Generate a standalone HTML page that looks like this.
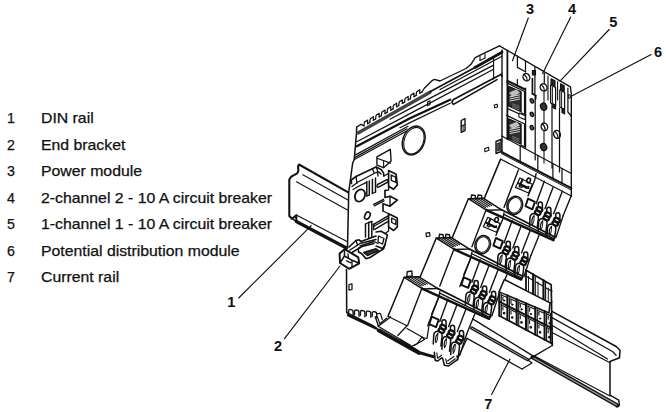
<!DOCTYPE html>
<html><head><meta charset="utf-8">
<style>
html,body{margin:0;padding:0;background:#fff;}
body{width:666px;height:412px;overflow:hidden;position:relative;font-family:"Liberation Sans",sans-serif;color:#111;}
.row{position:absolute;left:0;-webkit-text-stroke:0.25px #111;font-size:14.2px;line-height:16px;white-space:nowrap;}
.row .n{position:absolute;left:7px;}
.row .t{position:absolute;left:41.2px;transform:scaleX(1.114);transform-origin:0 0;}
svg{position:absolute;left:0;top:0;}
svg text{font-family:"Liberation Sans",sans-serif;font-weight:bold;font-size:14.6px;fill:#111;}
</style></head><body>
<div class="row" style="top:110px"><span class="n">1</span><span class="t">DIN rail</span></div>
<div class="row" style="top:136.5px"><span class="n">2</span><span class="t">End bracket</span></div>
<div class="row" style="top:163px"><span class="n">3</span><span class="t">Power module</span></div>
<div class="row" style="top:189.5px"><span class="n">4</span><span class="t">2-channel 2 - 10 A circuit breaker</span></div>
<div class="row" style="top:216px"><span class="n">5</span><span class="t">1-channel 1 - 10 A circuit breaker</span></div>
<div class="row" style="top:242.5px"><span class="n">6</span><span class="t">Potential distribution module</span></div>
<div class="row" style="top:269px"><span class="n">7</span><span class="t">Current rail</span></div>
<svg width="666" height="412" viewBox="0 0 666 412" fill="none" stroke="#111" stroke-width="1" stroke-linecap="round" stroke-linejoin="round">
<!--LABELS-->
<g stroke="none">
<text x="526" y="13.8">3</text>
<text x="568" y="13.8">4</text>
<text x="609.3" y="26.8">5</text>
<text x="654" y="57">6</text>
<text x="227.2" y="307">1</text>
<text x="274" y="351.3">2</text>
<text x="484.3" y="409.4">7</text>
</g>
<!--LEADERS-->
<g stroke-width="1.15">
<path d="M528.3 18 L512.5 60.7"/>
<path d="M570.7 17 L542.5 73.7"/>
<path d="M609.2 29.5 L560 81.2"/>
<path d="M651.2 54.5 L571.2 96.2"/>
<path d="M238.7 298 L311.2 225.7"/>
<path d="M284.5 338.7 L340 266"/>
<path d="M491.6 394.4 L510 359"/>
</g>
<!--DRAWING-->
<path d="M347.8 192.2 L299.0 164.5 L298.0 166.4 L298.4 170.9 L297.2 173.3 L291.2 176.6 L289.3 179.5 L289.3 216.0 L292.0 218.7 L296.3 215.2 L296.3 221.0" stroke-width="2.07"/>
<path d="M302.8 174.8 L347.5 199.8" stroke-width="1.10"/>
<path d="M296.4 181.8 L347.5 209.9" stroke-width="1.10"/>
<path d="M296.8 215.3 L347.0 241.5" stroke-width="1.10"/>
<path d="M296.3 221.5 L346.5 248.0" stroke-width="3.17"/>
<path d="M292.0 218.7 L296.3 221.3" stroke-width="1.38"/>
<path d="M356.7 127.0 L356.5 133.0 L354.2 159.5 L352.6 163.5 L348.7 192.5 L347.5 247.5" stroke-width="1.52"/>
<path d="M346.5 269.5 L346.7 312.6" stroke-width="1.52"/>
<ellipse cx="413.7" cy="140.5" rx="10.8" ry="15" transform="rotate(22 413.7 140.5)" stroke-width="1.38"/>
<path d="M351.5 183.5 L351.2 180.0 L356.0 176.5 L372.4 168.7 L376.1 166.9 L381.1 169.4 L383.6 173.1 L383.8 176.0" stroke-width="1.65"/>
<path d="M352.0 186.5 L358.0 182.0 L376.0 172.5 L379.0 172.0 L381.0 174.0" stroke-width="1.32"/>
<path d="M353.0 189.5 L360.0 185.5 L366.5 182.3" stroke-width="1.32"/>
<path d="M356.0 176.5 L357.0 183.0" stroke-width="1.32"/>
<path d="M376.1 166.9 L377.5 170.5 L378.0 176.0" stroke-width="1.32"/>
<path d="M372.4 168.7 L374.0 172.5" stroke-width="1.32"/>
<path d="M366.8 181.5 L366.8 196.0" stroke-width="1.48"/>
<path d="M369.3 181.0 L369.3 195.0" stroke-width="1.48"/>
<path d="M372.4 179.5 L372.4 193.5" stroke-width="1.48"/>
<path d="M375.5 178.0 L375.5 192.0" stroke-width="1.48"/>
<path d="M366.8 196.0 L369.3 195.0" stroke-width="1.32"/>
<path d="M372.4 193.5 L375.5 192.0" stroke-width="1.32"/>
<path d="M377.5 184.5 L386.5 179.8 Q388.5 179.5 388 182 L378.5 187.2 Q376.3 187.5 377.5 184.5 Z" stroke-width="1.48"/>
<path d="M388.6 170.6 L396.1 174.3 L397.3 184.9 L393.6 189.3 L388.6 186.2 Z" stroke-width="1.65"/>
<path d="M391.1 175.0 L395.6 177.2 L395.9 182.5 L391.4 180.3 Z" stroke-width="1.32"/>
<path d="M383.8 176.0 L388.6 173.5" stroke-width="1.32"/>
<ellipse cx="360" cy="195.5" rx="4.8" ry="6.4" transform="rotate(25 360 195.5)" stroke-width="1.81"/>
<path d="M385.0 190.5 L385.0 197.5 L390.0 196.2 L397.3 200.0 L390.0 206.2 L383.0 203.7 L383.0 211.0" stroke-width="1.65"/>
<path d="M390.0 196.2 L390.0 206.2" stroke-width="1.32"/>
<path d="M388.6 186.2 L388.6 190.0 L385.0 190.5" stroke-width="1.32"/>
<path d="M373.6 204.3 L383.6 199.3" stroke-width="1.32"/>
<path d="M374.2 205.8 L384.0 200.8" stroke-width="1.32"/>
<ellipse cx="367.4" cy="215.6" rx="2.5" ry="3.8" transform="rotate(25 367.4 215.6)" stroke-width="1.65"/>
<path d="M388.6 213.7 L397.3 218.1 L397.3 226.8 L393.6 230.5 L388.6 226.8 Z" stroke-width="1.65"/>
<path d="M391.7 218.0 L395.8 220.0 L395.8 224.5 L391.7 222.5 Z" stroke-width="1.32"/>
<path d="M373.6 224.3 L388.6 215.6" stroke-width="1.48"/>
<path d="M374.8 229.3 L388.6 221.2" stroke-width="1.48"/>
<path d="M374.0 226.3 L388.6 217.9" stroke-width="1.32"/>
<path d="M373.6 224.3 L373.6 229.8" stroke-width="1.48"/>
<path d="M383.0 211.0 L386.0 212.5 L388.6 213.7" stroke-width="1.32"/>
<path d="M365.5 224.0 L365.5 237.0" stroke-width="1.48"/>
<path d="M368.7 222.5 L368.7 238.0" stroke-width="1.48"/>
<path d="M371.8 221.5 L371.8 236.5" stroke-width="1.48"/>
<path d="M365.5 224.0 L368.7 222.5" stroke-width="1.32"/>
<path d="M368.7 222.5 L371.8 221.5" stroke-width="1.32"/>
<path d="M376.1 232.0 L381.1 231.2 L387.4 234.9 L384.9 244.9 L382.4 248.6 L376.1 246.1" stroke-width="1.65"/>
<path d="M378.5 236.0 L384.0 238.5 L382.5 244.0 L378.0 242.0 Z" stroke-width="1.32"/>
<path d="M388.6 226.8 L388.6 231.0 L385.0 233.5" stroke-width="1.32"/>
<path d="M349.0 247.0 L356.0 240.5 L359.0 239.8 L361.0 241.5 L376.0 236.0" stroke-width="1.65"/>
<path d="M350.0 250.0 L360.0 243.5 L376.0 239.5" stroke-width="1.48"/>
<path d="M352.0 252.5 L362.0 246.5 L374.0 243.5" stroke-width="1.48"/>
<path d="M356.0 240.5 L357.5 245.0" stroke-width="1.32"/>
<path d="M339.6 253.6 L344.6 249.2 L358.3 257.3 L359.2 263.3 L349.2 268.8 L340.0 263.0 Z" stroke-width="1.98"/>
<path d="M344.6 249.2 L344.4 256.0 L340.0 263.0" stroke-width="1.48"/>
<path d="M344.4 256.0 L352.0 260.3 L359.2 263.3" stroke-width="1.48"/>
<path d="M348.0 254.0 L348.5 258.3" stroke-width="1.32"/>
<path d="M352.0 260.3 L352.0 266.8" stroke-width="1.32"/>
<path d="M346.5 260.8 L351.0 262.8" stroke-width="1.32"/>
<path d="M358.5 252.0 L361.8 253.7 L366.0 258.7 L370.0 257.5 L383.6 248.7 L384.9 244.9" stroke-width="1.65"/>
<path d="M363.7 252.5 L376.0 248.7 L378.6 250.6 L367.4 255.6 Z" stroke-width="1.32" fill="#333"/>
<path d="M358.5 248.0 L358.5 252.0" stroke-width="1.32"/>
<path d="M360.0 246.0 L374.0 241.5 L378.0 243.5" stroke-width="1.32"/>
<path d="M356.7 127.0 L361.0 124.3 L364.0 125.8" stroke-width="1.38"/>
<path d="M364.0 125.8 L364.3 122.8 Q364.5 121.5 366.0 121.2 L367.6 120.1 L367.6 123.7" stroke-width="1.24"/>
<path d="M367.6 123.7 L369.8 122.4" stroke-width="1.24"/>
<path d="M369.8 122.4 L370.1 119.4 Q370.3 118.1 371.8 117.8 L373.4 116.7 L373.4 120.3" stroke-width="1.24"/>
<path d="M373.4 120.3 L375.6 119.0" stroke-width="1.24"/>
<path d="M375.6 119.0 L375.9 116.0 Q376.1 114.7 377.6 114.4 L379.2 113.3 L379.2 116.9" stroke-width="1.24"/>
<path d="M379.2 116.9 L381.4 115.7" stroke-width="1.24"/>
<path d="M381.4 115.7 L381.7 112.7 Q381.9 111.4 383.4 111.1 L385.0 110.0 L385.0 113.6" stroke-width="1.24"/>
<path d="M385.0 113.6 L387.2 112.3" stroke-width="1.24"/>
<path d="M387.2 112.3 L387.5 109.3 Q387.7 108.0 389.2 107.7 L390.8 106.6 L390.8 110.2" stroke-width="1.24"/>
<path d="M390.8 110.2 L393.0 108.9" stroke-width="1.24"/>
<path d="M393.0 108.9 L393.3 105.9 Q393.5 104.6 395.0 104.3 L396.6 103.2 L396.6 106.8" stroke-width="1.24"/>
<path d="M396.6 106.8 L398.8 105.5" stroke-width="1.24"/>
<path d="M398.8 105.5 L399.1 102.5 Q399.3 101.2 400.8 100.9 L402.4 99.8 L402.4 103.4" stroke-width="1.24"/>
<path d="M402.4 103.4 L404.6 102.1" stroke-width="1.24"/>
<path d="M404.6 102.1 L404.9 99.1 Q405.1 97.8 406.6 97.5 L408.2 96.4 L408.2 100.0" stroke-width="1.24"/>
<path d="M408.2 100.0 L410.4 98.8" stroke-width="1.24"/>
<path d="M410.4 98.8 L410.7 95.8 Q410.9 94.5 412.4 94.2 L414.0 93.1 L414.0 96.7" stroke-width="1.24"/>
<path d="M414.0 96.7 L416.2 95.4" stroke-width="1.24"/>
<path d="M416.2 95.4 L416.5 92.4 Q416.7 91.1 418.2 90.8 L419.8 89.7 L419.8 93.3" stroke-width="1.24"/>
<path d="M419.8 93.3 L422.0 92.0" stroke-width="1.24"/>
<path d="M422.0 92.0 L424.5 88.0 L432.5 80.3 L434.5 79.4 L440.0 81.0 L466.0 68.5 L471.0 64.3 L475.2 57.6 L485.3 52.6 L499.5 45.9" stroke-width="1.38"/>
<path d="M358 133 L430 92.3" stroke-width="3.31" stroke="#444"/>
<path d="M430.0 91.8 L475.0 67.5" stroke-width="1.66"/>
<path d="M475.0 67.5 L502.0 52.2" stroke-width="2.76"/>
<path d="M390.0 119.2 L410.0 108.6 L493.6 65.1" stroke-width="1.24"/>
<path d="M440.0 89.5 L502.0 56.2" stroke-width="1.24"/>
<path d="M356.8 141.8 L410.0 113.6 L493.6 69.3" stroke-width="1.24"/>
<path d="M356.8 146.2 L410.0 118.3 L450.2 99.8" stroke-width="2.35"/>
<path d="M400.0 127.7 L410.0 122.6 L450.2 103.2" stroke-width="1.24"/>
<path d="M501.3 74.2 L453.5 99.6 Q450.5 102 453.5 104.4 L497 79.6" stroke-width="1.66"/>
<path d="M501.3 74.2 L502.0 76.5" stroke-width="1.66"/>
<path d="M355.6 154.9 L408.0 126.2" stroke-width="1.24"/>
<path d="M355.0 157.4 L407.0 128.8" stroke-width="1.24"/>
<path d="M354.4 159.5 L406.3 131.2" stroke-width="1.24"/>
<path d="M427.5 102.0 L430.0 100.8 L430.0 104.5 L427.5 105.7 Z" stroke-width="1.10"/>
<path d="M480.0 60.5 L485.0 58.0" stroke-width="1.10"/>
<path d="M480.0 60.5 L480.0 56.5" stroke-width="1.10"/>
<path d="M485.0 58.0 L485.0 54.0" stroke-width="1.10"/>
<path d="M493.6 58.4 L493.6 79.0" stroke-width="1.10"/>
<path d="M502.0 50.0 L502.0 140.0" stroke-width="1.38"/>
<path d="M499.5 45.9 L570.4 86.9 L571.3 93.6 L571.3 196.2" stroke-width="1.38"/>
<path d="M517.4 56.2 L517.4 67.4 L525.5 71.8" stroke-width="1.24"/>
<path d="M525.5 61.2 L525.5 71.8" stroke-width="1.24"/>
<ellipse cx="526.4" cy="77.2" rx="3.3" ry="3.8" transform="rotate(-30 526.4 77.2)" stroke-width="1.38"/>
<path d="M524.3 74.5 Q527.5 77.5 527.3 80.6" stroke-width="1.24"/>
<path d="M534.9 66.8 L534.9 93.6" stroke-width="1.24"/>
<path d="M532.4 78.7 L532.4 93.6" stroke-width="1.66"/>
<path d="M532.4 70.6 L535.5 70.6 L535.5 74.9 L532.4 74.9 Z" stroke-width="1.10" fill="#222"/>
<path d="M532.4 93.6 L535.5 95.5" stroke-width="1.93"/>
<path d="M535.5 95.5 L535.5 99.0" stroke-width="1.93"/>
<path d="M544.3 73.0 L544.3 83.7" stroke-width="1.24"/>
<ellipse cx="543.6" cy="87.4" rx="3.3" ry="3.8" transform="rotate(-30 543.6 87.4)" stroke-width="1.38"/>
<path d="M541.5 84.7 Q544.7 87.7 544.5 90.8" stroke-width="1.24"/>
<path d="M551.0 78.7 L555.0 80.7 L555.0 86.6 L551.0 84.6 Z" stroke-width="1.10" fill="#222"/>
<path d="M550.6 85.0 L550.6 103.0 L555.6 105.5 L555.6 87.5 Z" stroke-width="1.24"/>
<path d="M552.4 87.0 L552.4 103.0" stroke-width="0.97"/>
<path d="M552.8 103.8 L555.6 105.3 L555.6 109.0 L552.8 107.5 Z" stroke-width="1.10" fill="#222"/>
<path d="M560.5 83.7 L564.2 85.7 L564.2 91.6 L560.5 89.6 Z" stroke-width="1.10" fill="#222"/>
<path d="M559.8 90.0 L559.8 107.0 L564.6 109.5 L564.6 92.5 Z" stroke-width="1.24"/>
<path d="M561.6 92.0 L561.6 107.5" stroke-width="0.97"/>
<path d="M562.0 108.2 L564.6 109.6 L564.6 114.0 L562.0 112.6 Z" stroke-width="1.10" fill="#222"/>
<path d="M567.9 88.0 L567.9 112.0 L571.3 116.0" stroke-width="1.24"/>
<ellipse cx="569.3" cy="96.5" rx="1.1" ry="1.8" transform="rotate(0 569.3 96.5)" stroke-width="1.10"/>
<path d="M525.6 88.0 L525.6 148.0" stroke-width="1.24"/>
<path d="M535.2 99.0 L535.2 160.0" stroke-width="1.24"/>
<path d="M552.0 104.0 L552.0 168.0" stroke-width="1.24"/>
<path d="M559.5 108.0 L559.5 172.0" stroke-width="1.24"/>
<path d="M548.0 76.0 L548.0 100.0" stroke-width="1.10"/>
<path d="M557.6 81.5 L557.6 100.0" stroke-width="1.10"/>
<path d="M506.9 82.9 L524.6 91.5 L524.6 114.5 L521.3 112.9" stroke-width="1.38"/>
<path d="M508.5 86.3 L521.1 91.9 L521.1 111.7 L508.5 105.9 Z" stroke-width="1.24" fill="#2e2e2e"/>
<path d="M510 92.8 L516.5 89.89999999999999 L519.3 92.8 L512.5 96.1 Z" stroke-width="0.83" stroke="#ddd" fill="#bbb"/>
<path d="M510 96.8 L519.5 94.9" stroke-width="0.97" stroke="#ddd"/>
<path d="M510 98.9 L519.5 97.0" stroke-width="0.97" stroke="#ddd"/>
<path d="M510 101.0 L519.5 99.1" stroke-width="0.97" stroke="#ddd"/>
<path d="M512.5 103.8 L519 106.3" stroke-width="0.62" stroke="#999"/>
<path d="M512.5 105.6 L519 108.1" stroke-width="0.62" stroke="#999"/>
<path d="M512.5 107.4 L519 109.9" stroke-width="0.62" stroke="#999"/>
<path d="M506.9 115.4 L524.6 124.0 L524.6 147.0 L521.3 145.4" stroke-width="1.38"/>
<path d="M508.5 118.8 L521.1 124.4 L521.1 144.2 L508.5 138.4 Z" stroke-width="1.24" fill="#2e2e2e"/>
<path d="M510 125.3 L516.5 122.39999999999999 L519.3 125.3 L512.5 128.6 Z" stroke-width="0.83" stroke="#ddd" fill="#bbb"/>
<path d="M510 129.3 L519.5 127.4" stroke-width="0.97" stroke="#ddd"/>
<path d="M510 131.4 L519.5 129.5" stroke-width="0.97" stroke="#ddd"/>
<path d="M510 133.5 L519.5 131.6" stroke-width="0.97" stroke="#ddd"/>
<path d="M512.5 136.3 L519 138.8" stroke-width="0.62" stroke="#999"/>
<path d="M512.5 138.1 L519 140.6" stroke-width="0.62" stroke="#999"/>
<path d="M512.5 139.9 L519 142.4" stroke-width="0.62" stroke="#999"/>
<path d="M507.5 80.9 L524.7 89.3" stroke-width="2.21"/>
<path d="M517.4 79.5 L517.4 84.5" stroke-width="1.24"/>
<path d="M518.9 113.0 L525.2 115.7 L525.2 119.7 L518.9 117.0 Z" stroke-width="1.10"/>
<path d="M507.4 108.5 L518.9 113.8" stroke-width="1.24"/>
<path d="M507.4 50.5 L507.4 139.0" stroke-width="1.79"/>
<ellipse cx="531.9" cy="100.9" rx="1.6" ry="2.3" transform="rotate(-25 531.9 100.9)" stroke-width="1.24" fill="#555"/>
<ellipse cx="531.9" cy="114.3" rx="1.6" ry="2.3" transform="rotate(-25 531.9 114.3)" stroke-width="1.24" fill="#555"/>
<ellipse cx="531.9" cy="127.7" rx="1.6" ry="2.3" transform="rotate(-25 531.9 127.7)" stroke-width="1.24" fill="#555"/>
<ellipse cx="543.6" cy="106.7" rx="3.0" ry="3.6" transform="rotate(-20 543.6 106.7)" stroke-width="1.38" fill="#333"/>
<ellipse cx="544.4" cy="126.8" rx="3.2" ry="3.8" transform="rotate(-20 544.4 126.8)" stroke-width="1.38"/>
<path d="M542.5 124 Q545.6 127 545.2 130.3" stroke-width="1.10"/>
<ellipse cx="543.6" cy="147" rx="3.0" ry="3.6" transform="rotate(-20 543.6 147)" stroke-width="1.38" fill="#333"/>
<path d="M544.0 91.5 L544.0 103.0" stroke-width="1.10"/>
<path d="M544.0 110.5 L544.0 123.0" stroke-width="1.10"/>
<path d="M544.0 130.8 L544.0 143.3" stroke-width="1.10"/>
<path d="M544.0 150.8 L544.0 163.0" stroke-width="1.10"/>
<ellipse cx="557" cy="134.4" rx="3.3" ry="4" transform="rotate(-20 557 134.4)" stroke-width="1.38"/>
<path d="M555 131.5 Q558.3 134.6 557.8 138.2" stroke-width="1.10"/>
<path d="M494.2 105.0 L497.2 104.2 L497.6 107.0 L494.6 107.8 Z" stroke-width="1.10"/>
<path d="M501.7 136.0 L571.3 173.5" stroke-width="1.24"/>
<path d="M501.0 151.7 L571.3 188.2" stroke-width="2.07"/>
<path d="M500.5 159.0 L571.3 196.0" stroke-width="1.24"/>
<path d="M501.5 153.6 L571.3 190.1" stroke-width="0.97"/>
<path d="M520.2 145.8 L520.2 161.8" stroke-width="1.24"/>
<path d="M537.8 155.3 L537.8 171.0" stroke-width="1.24"/>
<path d="M552.9 163.5 L552.9 178.8" stroke-width="1.24"/>
<path d="M562.0 168.5 L562.0 183.5" stroke-width="1.24"/>
<path d="M502.0 140.0 L502.0 152.0" stroke-width="1.38"/>
<path d="M496.0 141.5 L501.0 139.5 L501.0 151.5 L496.0 153.5 Z" stroke-width="1.38"/>
<path d="M497.3 143.5 L499.8 142.5 L499.8 150.0 L497.3 151.0 Z" stroke-width="0.83" fill="#444"/>
<path d="M484.5 148.8 L488.5 147.3 L489.0 150.3 L485.0 151.8 Z" stroke-width="1.10"/>
<path d="M500.5 159.4 L484.3 198.4" stroke-width="1.52"/>
<path d="M518.4 169.9 L504.0 207.4" stroke-width="1.38"/>
<path d="M536.1 173.7 L534.8 179.9 L528.0 196.1" stroke-width="1.38"/>
<path d="M544.3 181.2 L536.1 203.7" stroke-width="1.38"/>
<path d="M553.0 187.5 L544.9 208.7" stroke-width="1.38"/>
<path d="M562.3 191.2 L553.6 213.7" stroke-width="1.38"/>
<path d="M571.1 196.2 L563.0 216.1" stroke-width="1.38"/>
<path d="M519.9 178.0 L532.3 184.3 L528.6 193.0 L515.5 187.4 Z" stroke-width="1.24"/>
<path d="M522.5 179.5 L519.5 186.5" stroke-width="1.93"/>
<path d="M518.0 183.2 L528.5 188.0" stroke-width="1.93"/>
<path d="M521.0 187.5 q2 -2.2 4 -0.3 q1.6 1.6 3.5 -0.5" stroke-width="1.66"/>
<ellipse cx="528.6" cy="180.5" rx="1.8" ry="2.4" transform="rotate(20 528.6 180.5)" stroke-width="1.52"/>
<ellipse cx="514.8" cy="205.3" rx="7.6" ry="9.2" transform="rotate(20 514.8 205.3)" stroke-width="1.52"/>
<ellipse cx="514.8" cy="205.3" rx="6.3" ry="7.9" transform="rotate(20 514.8 205.3)" stroke-width="0.97"/>
<path d="M528.0 198.7 L534.9 201.8 L532.4 209.3 L525.5 206.2 Z" stroke-width="1.93"/>
<path d="M538.2 207.3 L538.2 204.3 Q538.2 201.9 540.3 201.9 Q542.4 201.9 542.4 204.3 L542.4 208.3" stroke-width="1.52"/>
<ellipse cx="539.4" cy="209.40000000000003" rx="3.0" ry="2.1" transform="rotate(28 539.4 209.40000000000003)" stroke-width="2.35"/>
<ellipse cx="537.6999999999999" cy="212.70000000000002" rx="2.9" ry="2.0" transform="rotate(28 537.6999999999999 212.70000000000002)" stroke-width="2.21"/>
<path d="M546.7 212.7 L546.7 209.7 Q546.7 207.3 548.8 207.3 Q550.9 207.3 550.9 209.7 L550.9 213.7" stroke-width="1.52"/>
<ellipse cx="547.9" cy="214.8" rx="3.0" ry="2.1" transform="rotate(28 547.9 214.8)" stroke-width="2.35"/>
<ellipse cx="546.1999999999999" cy="218.1" rx="2.9" ry="2.0" transform="rotate(28 546.1999999999999 218.1)" stroke-width="2.21"/>
<path d="M555.7 218.1 L555.7 215.1 Q555.7 212.7 557.8 212.7 Q559.9 212.7 559.9 215.1 L559.9 219.1" stroke-width="1.52"/>
<ellipse cx="556.9" cy="220.20000000000002" rx="3.0" ry="2.1" transform="rotate(28 556.9 220.20000000000002)" stroke-width="2.35"/>
<ellipse cx="555.1999999999999" cy="223.5" rx="2.9" ry="2.0" transform="rotate(28 555.1999999999999 223.5)" stroke-width="2.21"/>
<path d="M529.6 226.1 L530.0 217.6 Q530.3 213.4 534.3 213.4 Q538.6 213.8 538.4 218.1 L537.2 228.1" stroke-width="1.52"/>
<path d="M532.3 224.6 Q530.9 218.6 534.1 215.8" stroke-width="1.24"/>
<path d="M532.3 224.6 Q534.4 222.6 534.1 215.8" stroke-width="0.97"/>
<path d="M538.2 231.3 L538.6 222.8 Q538.9 218.6 542.9 218.6 Q547.2 219.0 547.0 223.3 L545.8 233.3" stroke-width="1.52"/>
<path d="M540.9 229.8 Q539.5 223.8 542.7 221.0" stroke-width="1.24"/>
<path d="M540.9 229.8 Q543.0 227.8 542.7 221.0" stroke-width="0.97"/>
<path d="M547.0 236.7 L547.4 228.2 Q547.7 224.0 551.7 224.0 Q556.0 224.4 555.8 228.7 L554.6 238.7" stroke-width="1.52"/>
<path d="M549.7 235.2 Q548.3 229.2 551.5 226.4" stroke-width="1.24"/>
<path d="M549.7 235.2 Q551.8 233.2 551.5 226.4" stroke-width="0.97"/>
<path d="M563.0 216.1 L558.0 231.4 L556.0 237.4" stroke-width="1.38"/>
<path d="M468.4 198.7 L483.2 198.2 L501.6 209.8 L486.8 210.3 Z" stroke-width="1.52"/>
<path d="M471.4 198.6 L485.5 207.5" stroke-width="1.10"/>
<path d="M474.3 198.5 L487.5 206.9" stroke-width="1.10"/>
<path d="M477.3 198.4 L489.6 206.2" stroke-width="1.10"/>
<path d="M480.2 198.3 L491.6 205.5" stroke-width="1.10"/>
<path d="M471.0 199.0 l0.6 -4.0 l3.6 0.4 l0.4 3.9" stroke-width="1.38"/>
<path d="M477.4 198.8 l0.6 -3.8 l3.6 0.4 l0.4 3.7" stroke-width="1.38"/>
<path d="M486.8 210.3 L553.4 240.2" stroke-width="2.48"/>
<path d="M501.6 209.8 L518.4 218.2 L554.4 236.7" stroke-width="1.79"/>
<path d="M504.4 214.7 L553.9 238.7" stroke-width="1.38"/>
<path d="M553.4 240.2 L554.9 236.2" stroke-width="1.38"/>
<path d="M468.4 198.7 L452.2 237.7" stroke-width="1.52"/>
<path d="M486.3 209.2 L471.9 246.7" stroke-width="1.38"/>
<path d="M504.0 213.0 L502.7 219.2 L495.9 235.4" stroke-width="1.38"/>
<path d="M512.2 220.5 L504.0 243.0" stroke-width="1.38"/>
<path d="M520.9 226.8 L512.8 248.0" stroke-width="1.38"/>
<path d="M530.2 230.5 L521.5 253.0" stroke-width="1.38"/>
<path d="M539.0 235.5 L530.9 255.4" stroke-width="1.38"/>
<path d="M487.8 217.3 L500.2 223.6 L496.5 232.3 L483.4 226.7 Z" stroke-width="1.24"/>
<path d="M490.4 218.8 L487.4 225.8" stroke-width="1.93"/>
<path d="M485.9 222.5 L496.4 227.3" stroke-width="1.93"/>
<path d="M488.9 226.8 q2 -2.2 4 -0.3 q1.6 1.6 3.5 -0.5" stroke-width="1.66"/>
<ellipse cx="496.5" cy="219.79999999999998" rx="1.8" ry="2.4" transform="rotate(20 496.5 219.79999999999998)" stroke-width="1.52"/>
<ellipse cx="482.7" cy="244.6" rx="7.6" ry="9.2" transform="rotate(20 482.7 244.6)" stroke-width="1.52"/>
<ellipse cx="482.7" cy="244.6" rx="6.3" ry="7.9" transform="rotate(20 482.7 244.6)" stroke-width="0.97"/>
<path d="M495.9 238.0 L502.8 241.1 L500.3 248.6 L493.4 245.5 Z" stroke-width="1.93"/>
<path d="M506.1 246.6 L506.1 243.6 Q506.1 241.2 508.2 241.2 Q510.3 241.2 510.3 243.6 L510.3 247.6" stroke-width="1.52"/>
<ellipse cx="507.3" cy="248.7" rx="3.0" ry="2.1" transform="rotate(28 507.3 248.7)" stroke-width="2.35"/>
<ellipse cx="505.59999999999997" cy="251.99999999999997" rx="2.9" ry="2.0" transform="rotate(28 505.59999999999997 251.99999999999997)" stroke-width="2.21"/>
<path d="M514.6 252.0 L514.6 249.0 Q514.6 246.6 516.7 246.6 Q518.8 246.6 518.8 249.0 L518.8 253.0" stroke-width="1.52"/>
<ellipse cx="515.8" cy="254.1" rx="3.0" ry="2.1" transform="rotate(28 515.8 254.1)" stroke-width="2.35"/>
<ellipse cx="514.0999999999999" cy="257.4" rx="2.9" ry="2.0" transform="rotate(28 514.0999999999999 257.4)" stroke-width="2.21"/>
<path d="M523.6 257.4 L523.6 254.4 Q523.6 252.0 525.7 252.0 Q527.8 252.0 527.8 254.4 L527.8 258.4" stroke-width="1.52"/>
<ellipse cx="524.8" cy="259.5" rx="3.0" ry="2.1" transform="rotate(28 524.8 259.5)" stroke-width="2.35"/>
<ellipse cx="523.0999999999999" cy="262.8" rx="2.9" ry="2.0" transform="rotate(28 523.0999999999999 262.8)" stroke-width="2.21"/>
<path d="M497.5 265.4 L497.9 256.9 Q498.2 252.7 502.2 252.7 Q506.5 253.1 506.3 257.4 L505.1 267.4" stroke-width="1.52"/>
<path d="M500.2 263.9 Q498.8 257.9 502.0 255.1" stroke-width="1.24"/>
<path d="M500.2 263.9 Q502.3 261.9 502.0 255.1" stroke-width="0.97"/>
<path d="M506.1 270.6 L506.5 262.1 Q506.8 257.9 510.8 257.9 Q515.1 258.3 514.9 262.6 L513.7 272.6" stroke-width="1.52"/>
<path d="M508.8 269.1 Q507.4 263.1 510.6 260.3" stroke-width="1.24"/>
<path d="M508.8 269.1 Q510.9 267.1 510.6 260.3" stroke-width="0.97"/>
<path d="M514.9 276.0 L515.3 267.5 Q515.6 263.3 519.6 263.3 Q523.9 263.7 523.7 268.0 L522.5 278.0" stroke-width="1.52"/>
<path d="M517.6 274.5 Q516.2 268.5 519.4 265.7" stroke-width="1.24"/>
<path d="M517.6 274.5 Q519.7 272.5 519.4 265.7" stroke-width="0.97"/>
<path d="M530.9 255.4 L525.9 270.7 L523.9 276.7" stroke-width="1.38"/>
<path d="M436.3 238.0 L451.1 237.5 L469.5 249.1 L454.7 249.6 Z" stroke-width="1.52"/>
<path d="M439.3 237.9 L453.4 246.8" stroke-width="1.10"/>
<path d="M442.2 237.8 L455.4 246.2" stroke-width="1.10"/>
<path d="M445.2 237.7 L457.5 245.5" stroke-width="1.10"/>
<path d="M448.1 237.6 L459.5 244.8" stroke-width="1.10"/>
<path d="M438.9 238.3 l0.6 -4.0 l3.6 0.4 l0.4 3.9" stroke-width="1.38"/>
<path d="M445.3 238.1 l0.6 -3.8 l3.6 0.4 l0.4 3.7" stroke-width="1.38"/>
<path d="M454.7 249.6 L521.3 279.5" stroke-width="2.48"/>
<path d="M469.5 249.1 L486.3 257.5 L522.3 276.0" stroke-width="1.79"/>
<path d="M472.3 254.0 L521.8 278.0" stroke-width="1.38"/>
<path d="M521.3 279.5 L522.8 275.5" stroke-width="1.38"/>
<path d="M436.3 238.0 L420.1 277.0" stroke-width="1.52"/>
<path d="M454.2 248.5 L439.8 286.0" stroke-width="1.38"/>
<path d="M471.9 252.3 L470.6 258.5 L463.8 274.7" stroke-width="1.38"/>
<path d="M480.1 259.8 L471.9 282.3" stroke-width="1.38"/>
<path d="M488.8 266.1 L480.7 287.3" stroke-width="1.38"/>
<path d="M498.1 269.8 L489.4 292.3" stroke-width="1.38"/>
<path d="M506.9 274.8 L498.8 294.7" stroke-width="1.38"/>
<path d="M470.7 258.1 L459.8 286.6" stroke-width="1.38"/>
<path d="M463.8 277.3 L470.7 280.4 L468.2 287.9 L461.3 284.8 Z" stroke-width="1.93"/>
<path d="M474.0 285.9 L474.0 282.9 Q474.0 280.5 476.1 280.5 Q478.2 280.5 478.2 282.9 L478.2 286.9" stroke-width="1.52"/>
<ellipse cx="475.20000000000005" cy="288.0" rx="3.0" ry="2.1" transform="rotate(28 475.20000000000005 288.0)" stroke-width="2.35"/>
<ellipse cx="473.5" cy="291.3" rx="2.9" ry="2.0" transform="rotate(28 473.5 291.3)" stroke-width="2.21"/>
<path d="M482.5 291.3 L482.5 288.3 Q482.5 285.9 484.6 285.9 Q486.7 285.9 486.7 288.3 L486.7 292.3" stroke-width="1.52"/>
<ellipse cx="483.70000000000005" cy="293.40000000000003" rx="3.0" ry="2.1" transform="rotate(28 483.70000000000005 293.40000000000003)" stroke-width="2.35"/>
<ellipse cx="482.0" cy="296.70000000000005" rx="2.9" ry="2.0" transform="rotate(28 482.0 296.70000000000005)" stroke-width="2.21"/>
<path d="M491.5 296.7 L491.5 293.7 Q491.5 291.3 493.6 291.3 Q495.7 291.3 495.7 293.7 L495.7 297.7" stroke-width="1.52"/>
<ellipse cx="492.70000000000005" cy="298.8" rx="3.0" ry="2.1" transform="rotate(28 492.70000000000005 298.8)" stroke-width="2.35"/>
<ellipse cx="491.0" cy="302.1" rx="2.9" ry="2.0" transform="rotate(28 491.0 302.1)" stroke-width="2.21"/>
<path d="M465.4 304.7 L465.8 296.2 Q466.1 292.0 470.1 292.0 Q474.4 292.4 474.2 296.7 L473.0 306.7" stroke-width="1.52"/>
<path d="M468.1 303.2 Q466.7 297.2 469.9 294.4" stroke-width="1.24"/>
<path d="M468.1 303.2 Q470.2 301.2 469.9 294.4" stroke-width="0.97"/>
<path d="M474.0 309.9 L474.4 301.4 Q474.7 297.2 478.7 297.2 Q483.0 297.6 482.8 301.9 L481.6 311.9" stroke-width="1.52"/>
<path d="M476.7 308.4 Q475.3 302.4 478.5 299.6" stroke-width="1.24"/>
<path d="M476.7 308.4 Q478.8 306.4 478.5 299.6" stroke-width="0.97"/>
<path d="M482.8 315.3 L483.2 306.8 Q483.5 302.6 487.5 302.6 Q491.8 303.0 491.6 307.3 L490.4 317.3" stroke-width="1.52"/>
<path d="M485.5 313.8 Q484.1 307.8 487.3 305.0" stroke-width="1.24"/>
<path d="M485.5 313.8 Q487.6 311.8 487.3 305.0" stroke-width="0.97"/>
<path d="M498.8 294.7 L493.8 310.0 L491.8 316.0" stroke-width="1.38"/>
<path d="M404.2 277.3 L419.0 276.8 L437.4 288.4 L422.6 288.9 Z" stroke-width="1.52"/>
<path d="M407.2 277.2 L421.3 286.1" stroke-width="1.10"/>
<path d="M410.1 277.1 L423.3 285.5" stroke-width="1.10"/>
<path d="M413.1 277.0 L425.4 284.8" stroke-width="1.10"/>
<path d="M416.0 276.9 L427.4 284.1" stroke-width="1.10"/>
<path d="M406.8 276.8 l0.4 -5.0 l4.6 -0.8 l0.4 5.0 Z" stroke-width="1.38"/>
<path d="M422.6 288.9 L489.2 318.8" stroke-width="2.48"/>
<path d="M437.4 288.4 L454.2 296.8 L490.2 315.3" stroke-width="1.79"/>
<path d="M440.2 293.3 L489.7 317.3" stroke-width="1.38"/>
<path d="M489.2 318.8 L490.7 314.8" stroke-width="1.38"/>
<path d="M404.2 277.3 L388.0 316.3" stroke-width="1.52"/>
<path d="M422.1 287.8 L407.7 325.3" stroke-width="1.38"/>
<path d="M439.8 291.6 L438.5 297.8 L431.7 314.0" stroke-width="1.38"/>
<path d="M448.0 299.1 L439.8 321.6" stroke-width="1.38"/>
<path d="M456.7 305.4 L448.6 326.6" stroke-width="1.38"/>
<path d="M466.0 309.1 L457.3 331.6" stroke-width="1.38"/>
<path d="M474.8 314.1 L466.7 334.0" stroke-width="1.38"/>
<path d="M438.6 297.4 L427.7 325.9" stroke-width="1.38"/>
<path d="M431.7 316.6 L438.6 319.7 L436.1 327.2 L429.2 324.1 Z" stroke-width="1.93"/>
<path d="M441.9 325.2 L441.9 322.2 Q441.9 319.8 444.0 319.8 Q446.1 319.8 446.1 322.2 L446.1 326.2" stroke-width="1.52"/>
<ellipse cx="443.1" cy="327.3" rx="3.0" ry="2.1" transform="rotate(28 443.1 327.3)" stroke-width="2.35"/>
<ellipse cx="441.4" cy="330.6" rx="2.9" ry="2.0" transform="rotate(28 441.4 330.6)" stroke-width="2.21"/>
<path d="M450.4 330.6 L450.4 327.6 Q450.4 325.2 452.5 325.2 Q454.6 325.2 454.6 327.6 L454.6 331.6" stroke-width="1.52"/>
<ellipse cx="451.6" cy="332.70000000000005" rx="3.0" ry="2.1" transform="rotate(28 451.6 332.70000000000005)" stroke-width="2.35"/>
<ellipse cx="449.9" cy="336.00000000000006" rx="2.9" ry="2.0" transform="rotate(28 449.9 336.00000000000006)" stroke-width="2.21"/>
<path d="M459.4 336.0 L459.4 333.0 Q459.4 330.6 461.5 330.6 Q463.6 330.6 463.6 333.0 L463.6 337.0" stroke-width="1.52"/>
<ellipse cx="460.6" cy="338.1" rx="3.0" ry="2.1" transform="rotate(28 460.6 338.1)" stroke-width="2.35"/>
<ellipse cx="458.9" cy="341.40000000000003" rx="2.9" ry="2.0" transform="rotate(28 458.9 341.40000000000003)" stroke-width="2.21"/>
<path d="M433.3 344.0 L433.7 335.5 Q434.0 331.3 438.0 331.3 Q442.3 331.7 442.1 336.0 L440.9 346.0" stroke-width="1.52"/>
<path d="M436.0 342.5 Q434.6 336.5 437.8 333.7" stroke-width="1.24"/>
<path d="M436.0 342.5 Q438.1 340.5 437.8 333.7" stroke-width="0.97"/>
<path d="M441.9 349.2 L442.3 340.7 Q442.6 336.5 446.6 336.5 Q450.9 336.9 450.7 341.2 L449.5 351.2" stroke-width="1.52"/>
<path d="M444.6 347.7 Q443.2 341.7 446.4 338.9" stroke-width="1.24"/>
<path d="M444.6 347.7 Q446.7 345.7 446.4 338.9" stroke-width="0.97"/>
<path d="M450.7 354.6 L451.1 346.1 Q451.4 341.9 455.4 341.9 Q459.7 342.3 459.5 346.6 L458.3 356.6" stroke-width="1.52"/>
<path d="M453.4 353.1 Q452.0 347.1 455.2 344.3" stroke-width="1.24"/>
<path d="M453.4 353.1 Q455.5 351.1 455.2 344.3" stroke-width="0.97"/>
<path d="M466.7 334.0 L461.7 349.3 L459.7 355.3" stroke-width="1.38"/>
<path d="M348.6 314.1 L348.6 310.8 Q348.7 309.3 350.2 309.4 L351.8 309.8 Q353.1 310.2 353.1 311.5 L353.1 315.6" stroke-width="1.38"/>
<path d="M354.5 314.7 L354.5 311.4 Q354.6 309.9 356.1 310.0 L357.7 310.4 Q359.0 310.8 359.0 312.1 L359.0 316.2" stroke-width="1.38"/>
<path d="M360.4 315.2 L360.4 311.9 Q360.5 310.4 362.0 310.5 L363.6 310.9 Q364.9 311.3 364.9 312.6 L364.9 316.7" stroke-width="1.38"/>
<path d="M366.3 315.8 L366.3 312.4 Q366.4 310.9 367.9 311.1 L369.5 311.4 Q370.8 311.8 370.8 313.1 L370.8 317.2" stroke-width="1.38"/>
<path d="M372.2 316.3 L372.2 313.0 Q372.3 311.5 373.8 311.6 L375.4 312.0 Q376.7 312.4 376.7 313.7 L376.7 317.8" stroke-width="1.38"/>
<path d="M346.7 312.6 L373.5 326.0 L378.5 330.2" stroke-width="1.52"/>
<path d="M348.0 315.2 L376.0 328.3" stroke-width="2.48"/>
<path d="M378.5 330.5 L418.7 353.0" stroke-width="3.59"/>
<path d="M418.7 353.0 L433.8 357.2" stroke-width="1.93"/>
<path d="M377.7 326.0 L410.3 345.3" stroke-width="1.24"/>
<path d="M380.0 329.0 L414.0 348.5" stroke-width="0.97"/>
<path d="M375.2 316.8 L378.5 326.0 L388.6 318.5 L390.5 316.8" stroke-width="1.38"/>
<path d="M377.2 316.5 L379.8 323.5 L387.0 318.0" stroke-width="1.10"/>
<path d="M377.5 313.8 Q380.5 312.3 381 315.2 L382.3 319.5" stroke-width="1.24"/>
<path d="M388.3 316.5 L407.0 325.8" stroke-width="1.24"/>
<path d="M407.0 325.8 L397.8 335.5" stroke-width="1.24"/>
<path d="M407.0 328.5 L422.0 337.0 L417.0 343.8 L408.7 347.8" stroke-width="1.24"/>
<path d="M422.0 337.0 L424.5 339.5 L414.5 345.3" stroke-width="1.24"/>
<path d="M400.0 339.3 L420.1 351.8 L433.5 356.0" stroke-width="1.38"/>
<path d="M429.6 321.8 L427.0 338.5 L422.0 337.5" stroke-width="1.24"/>
<path d="M434.3 352.3 L435.2 360.2 L437.7 361.0 L441.9 357.7 L442.7 358.5 L444.4 365.2 L448.6 366.0 L457.8 359.4 L457.0 356.0" stroke-width="1.52"/>
<path d="M436.8 352.8 L437.5 358.3 L441.5 355.2" stroke-width="1.10"/>
<path d="M445.8 358.8 L446.6 363.3 L448.6 363.8 L455.3 358.8" stroke-width="1.10"/>
<path d="M447.5 361.0 L454.0 356.5" stroke-width="1.10"/>
<path d="M426.0 233.2 L429.6 232.6 L430.0 236.0 L426.4 236.6 Z" stroke-width="1.24"/>
<path d="M349.0 284.5 L352.0 283.8 L352.0 289.5 L349.0 290.2 Z" stroke-width="1.24"/>
<path d="M526.0 270.2 L551.2 284.8 L552.3 345.5" stroke-width="1.66"/>
<path d="M526.0 270.2 L526.0 290.6" stroke-width="1.79"/>
<path d="M533.2 274.4 L533.2 294.3" stroke-width="2.21"/>
<path d="M535.3 275.6 L535.3 295.4" stroke-width="1.10"/>
<path d="M543.5 280.4 L543.5 299.6" stroke-width="2.21"/>
<path d="M545.6 281.6 L545.6 300.6" stroke-width="1.10"/>
<path d="M528.5 276.5 L528.5 291.9" stroke-width="0.97"/>
<path d="M538.0 282.0 L538.0 296.8" stroke-width="0.97"/>
<path d="M548.3 288.0 L548.3 302.0" stroke-width="0.97"/>
<path d="M526.5 276.5 L533.0 280.2" stroke-width="1.10"/>
<path d="M535.8 282.0 L543.0 286.0" stroke-width="1.10"/>
<path d="M546.0 288.0 L552.0 291.3" stroke-width="1.10"/>
<path d="M504.3 279.5 L550.0 302.9 L549.0 313.0 L499.1 291.9 Z" stroke-width="1.52" fill="#fff"/>
<path d="M550.0 302.9 L552.0 302.0" stroke-width="1.24"/>
<path d="M499.3 292.0 L499.3 315.7" stroke-width="2.07"/>
<path d="M507.4 295.4 L507.4 320.0" stroke-width="2.07"/>
<path d="M516.7 299.3 L516.7 324.9" stroke-width="2.07"/>
<path d="M526.0 303.2 L526.0 329.8" stroke-width="2.07"/>
<path d="M535.3 307.2 L535.3 334.7" stroke-width="2.07"/>
<path d="M544.6 311.1 L544.6 339.7" stroke-width="2.07"/>
<path d="M550.6 313.5 L550.6 342.8" stroke-width="1.66"/>
<path d="M499.3 301.7 L552.0 328.1" stroke-width="1.93"/>
<path d="M499.3 315.7 L552.3 343.7" stroke-width="1.66"/>
<path d="M501.3 294.3 L501.3 302.2" stroke-width="1.10"/>
<path d="M501.3 295.0 L506.6 297.3" stroke-width="1.10"/>
<path d="M502.9 297.0 L502.9 300.0" stroke-width="1.10"/>
<path d="M501.3 304.2 L501.3 316.2" stroke-width="1.10"/>
<path d="M501.3 304.9 L506.6 307.6" stroke-width="1.10"/>
<path d="M502.9 307.0 L502.9 310.0" stroke-width="1.10"/>
<ellipse cx="504.1" cy="313.20300000000003" rx="0.8" ry="0.8" transform="rotate(0 504.1 313.20300000000003)" stroke-width="1.10" fill="#555"/>
<ellipse cx="504.1" cy="300.6" rx="0.7" ry="0.7" transform="rotate(0 504.1 300.6)" stroke-width="0.97" fill="#777"/>
<path d="M509.4 297.7 L509.4 306.2" stroke-width="1.10"/>
<path d="M509.4 298.4 L515.9 301.2" stroke-width="1.10"/>
<path d="M511.0 300.4 L511.0 303.4" stroke-width="1.10"/>
<path d="M509.4 308.2 L509.4 320.5" stroke-width="1.10"/>
<path d="M509.4 308.9 L515.9 312.2" stroke-width="1.10"/>
<path d="M511.0 311.1 L511.0 314.1" stroke-width="1.10"/>
<ellipse cx="512.1999999999999" cy="317.496" rx="0.8" ry="0.8" transform="rotate(0 512.1999999999999 317.496)" stroke-width="1.10" fill="#555"/>
<ellipse cx="512.1999999999999" cy="304.65" rx="0.7" ry="0.7" transform="rotate(0 512.1999999999999 304.65)" stroke-width="0.97" fill="#777"/>
<path d="M518.7 301.7 L518.7 310.9" stroke-width="1.10"/>
<path d="M518.7 302.4 L525.2 305.1" stroke-width="1.10"/>
<path d="M520.3 304.3 L520.3 307.3" stroke-width="1.10"/>
<path d="M518.7 312.9 L518.7 325.4" stroke-width="1.10"/>
<path d="M518.7 313.6 L525.2 316.9" stroke-width="1.10"/>
<path d="M520.3 315.7 L520.3 318.7" stroke-width="1.10"/>
<ellipse cx="521.5" cy="322.425" rx="0.8" ry="0.8" transform="rotate(0 521.5 322.425)" stroke-width="1.10" fill="#555"/>
<ellipse cx="521.5" cy="309.3" rx="0.7" ry="0.7" transform="rotate(0 521.5 309.3)" stroke-width="0.97" fill="#777"/>
<path d="M528.0 305.6 L528.0 315.6" stroke-width="1.10"/>
<path d="M528.0 306.3 L534.5 309.0" stroke-width="1.10"/>
<path d="M529.6 308.3 L529.6 311.3" stroke-width="1.10"/>
<path d="M528.0 317.6 L528.0 330.4" stroke-width="1.10"/>
<path d="M528.0 318.2 L534.5 321.5" stroke-width="1.10"/>
<path d="M529.6 320.4 L529.6 323.4" stroke-width="1.10"/>
<ellipse cx="530.8" cy="327.354" rx="0.8" ry="0.8" transform="rotate(0 530.8 327.354)" stroke-width="1.10" fill="#555"/>
<ellipse cx="530.8" cy="313.95" rx="0.7" ry="0.7" transform="rotate(0 530.8 313.95)" stroke-width="0.97" fill="#777"/>
<path d="M537.3 309.5 L537.3 320.2" stroke-width="1.10"/>
<path d="M537.3 310.2 L543.8 312.9" stroke-width="1.10"/>
<path d="M538.9 312.2 L538.9 315.2" stroke-width="1.10"/>
<path d="M537.3 322.2 L537.3 335.3" stroke-width="1.10"/>
<path d="M537.3 322.9 L543.8 326.2" stroke-width="1.10"/>
<path d="M538.9 325.0 L538.9 328.0" stroke-width="1.10"/>
<ellipse cx="540.0999999999999" cy="332.28299999999996" rx="0.8" ry="0.8" transform="rotate(0 540.0999999999999 332.28299999999996)" stroke-width="1.10" fill="#555"/>
<ellipse cx="540.0999999999999" cy="318.59999999999997" rx="0.7" ry="0.7" transform="rotate(0 540.0999999999999 318.59999999999997)" stroke-width="0.97" fill="#777"/>
<path d="M546.6 313.4 L546.6 324.9" stroke-width="1.10"/>
<path d="M546.6 314.1 L551.2 316.1" stroke-width="1.10"/>
<path d="M548.2 316.1 L548.2 319.1" stroke-width="1.10"/>
<path d="M546.6 326.9 L546.6 340.2" stroke-width="1.10"/>
<path d="M546.6 327.6 L551.2 329.9" stroke-width="1.10"/>
<path d="M548.2 329.7 L548.2 332.7" stroke-width="1.10"/>
<ellipse cx="549.4" cy="337.212" rx="0.8" ry="0.8" transform="rotate(0 549.4 337.212)" stroke-width="1.10" fill="#555"/>
<ellipse cx="549.4" cy="323.25" rx="0.7" ry="0.7" transform="rotate(0 549.4 323.25)" stroke-width="0.97" fill="#777"/>
<path d="M552.3 345.5 L533.7 356.3 L528.0 360.0" stroke-width="1.38"/>
<path d="M472.6 318.8 L533.7 356.3" stroke-width="1.38"/>
<path d="M471.7 328.0 L527.5 359.6" stroke-width="3.17"/>
<path d="M471.7 328.0 L527.5 359.6" stroke-width="0.97" stroke="#aaa"/>
<path d="M467.0 338.4 L522.0 369.0" stroke-width="1.24"/>
<path d="M522.0 369.0 L532.0 363.0 L528.0 360.0" stroke-width="1.24"/>
<path d="M457.0 360.2 L467.0 338.4" stroke-width="1.24"/>
<path d="M552.0 311.3 L616.2 346.5 L620.0 350.2 L619.5 357.7 L610.0 361.5 L610.0 395.2" stroke-width="1.52"/>
<path d="M552.0 317.6 L612.5 351.5 L616.2 355.2" stroke-width="1.24"/>
<path d="M552.0 325.2 L607.5 359.0" stroke-width="1.24"/>
<path d="M552.5 332.7 L610.0 362.7" stroke-width="1.24"/>
<path d="M532.5 357.3 L617.5 405.4" stroke-width="4.00"/>
<path d="M534 358.2 L616.5 404.9" stroke-width="1.24" stroke="#999"/>
<path d="M534.0 355.8 L610.0 396.0" stroke-width="1.10"/>
<path d="M610.0 395.2 L618.7 400.2 L619.5 405.2 L616.2 406.8" stroke-width="1.38"/>
<path d="M376.9 156.8 L390.3 149.3 L391.1 161.0 L383.6 167.7 L376.9 165.2 Z" stroke-width="1.38"/>
<path d="M377.7 158.5 L390.5 163.2" stroke-width="1.24"/>
<path d="M383.6 160.8 L383.6 167.7" stroke-width="1.10"/>
<ellipse cx="413.9" cy="140.7" rx="9.6" ry="13.8" transform="rotate(22 413.9 140.7)" stroke-width="1.10"/>
<path d="M461.2 120.5 L465.0 118.7 L465.0 130.7 L461.2 132.5 Z" stroke-width="1.38"/>
<path d="M461.2 126.2 L465.0 124.5" stroke-width="1.10"/>
<path d="M463.1 125.3 L463.1 131.5" stroke-width="0.97"/>
<!--ENDDRAWING-->
</svg>
</body></html>
